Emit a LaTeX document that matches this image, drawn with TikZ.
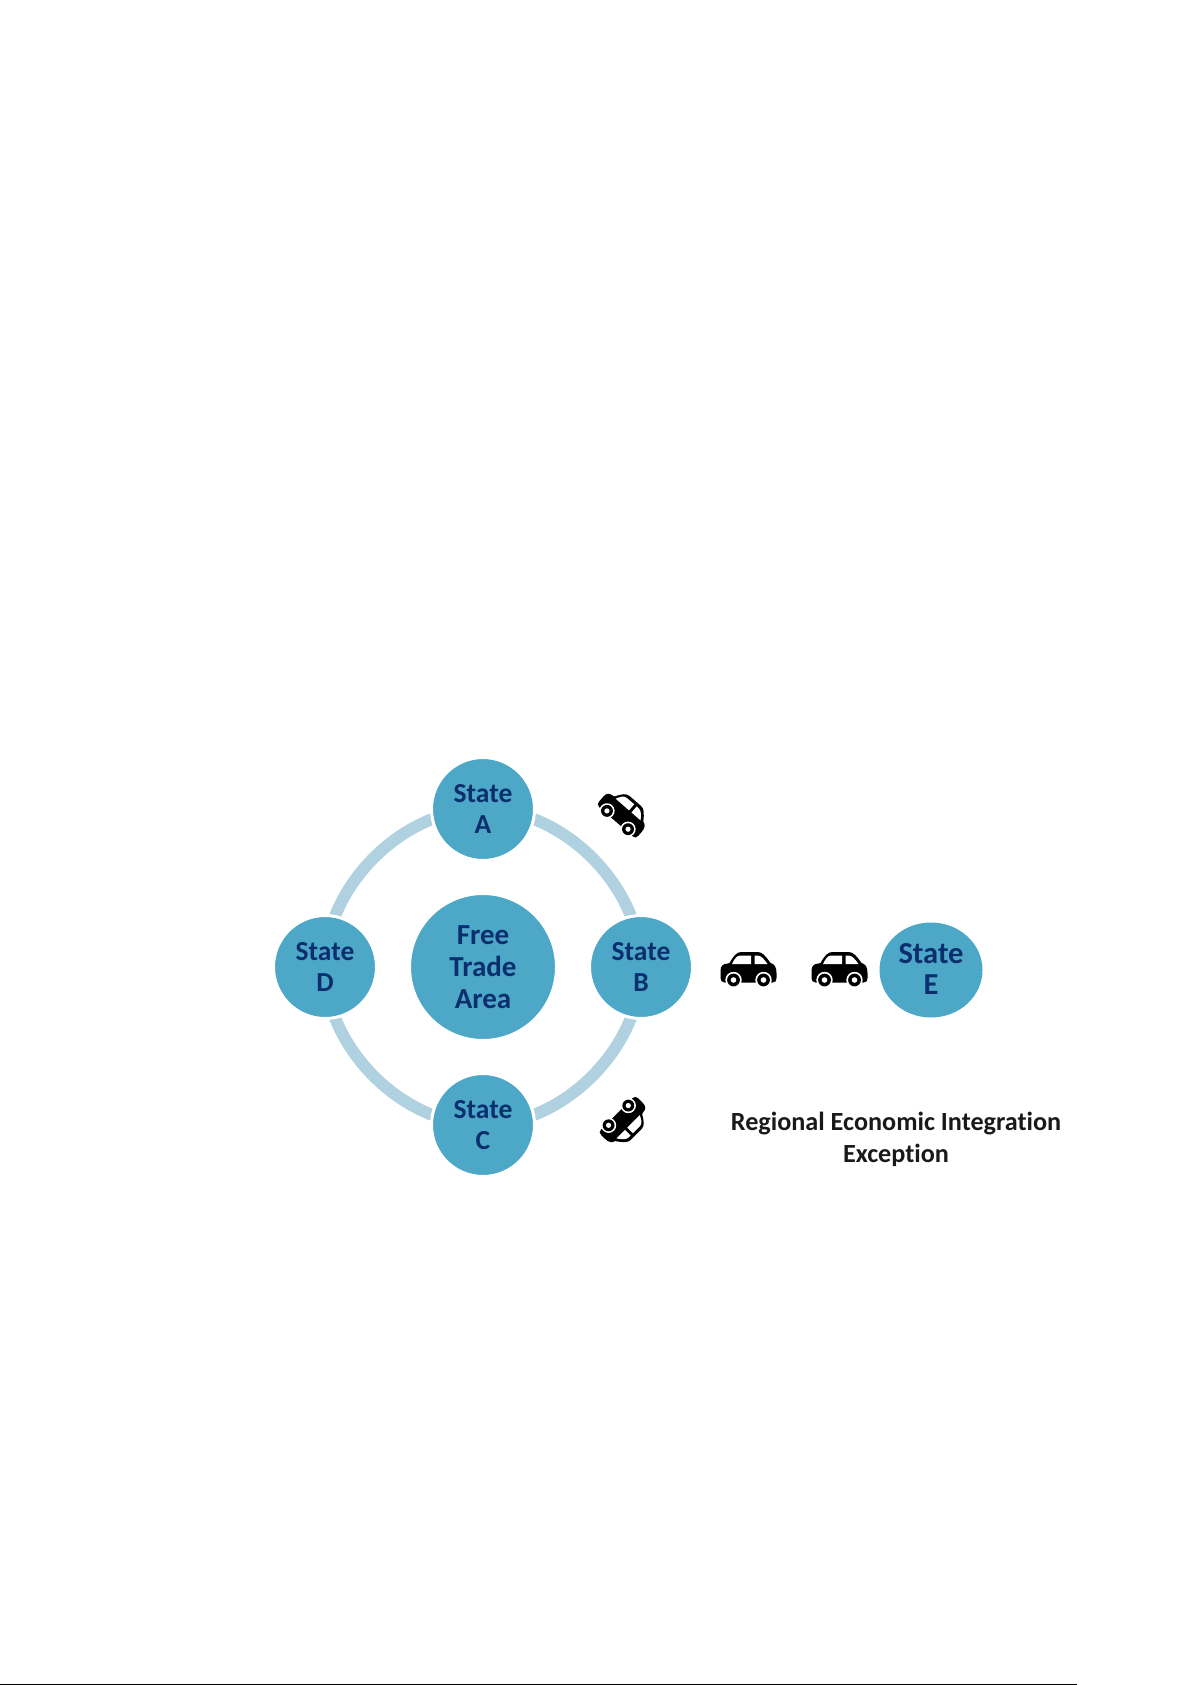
\documentclass[tikz,border=0pt]{standalone}
\usepackage{fontspec}
\setmainfont{Carlito}[RawFeature=-liga]
\usetikzlibrary{positioning,backgrounds,shapes.geometric}
\definecolor{statefill}{HTML}{4CA8C6}
\definecolor{statetext}{HTML}{0B2F6E}
\definecolor{ringblue}{HTML}{B0D2E0}
\tikzset{
    %Define style for circles
    member/.style={
           circle,
           draw=white,
           line width=3pt,
           fill=statefill,
           text=statetext,
           inner sep=0pt,
           outer sep=0pt,
           minimum size=103pt,
           align=center,
           font=\fontsize{27.5}{30.5}\selectfont\bfseries},
    hub/.style={
           member,
           minimum size=147pt,
           font=\fontsize{29}{32}\selectfont\bfseries},
    outsider/.style={
           member,
           ellipse,
           draw=none,
           minimum width=103pt,
           minimum height=95pt,
           text depth=1.5pt,
           font=\fontsize{30.5}{31}\selectfont\bfseries},
    caption/.style={
           align=center,
           text=black!90,
           font=\fontsize{26.2}{31.5}\selectfont\bfseries},
    % Define arc style
    ring/.style={
           draw=ringblue,
           line width=12pt,
           looseness=.92},
    % Define a car
    car/.pic={
        \fill[black] (-24,12.5) .. controls (-27,12.5) and (-28,10) .. (-28,8)
           -- (-28,1) .. controls (-28,-4) and (-26,-6) .. (-21,-6.5)
           -- (-19,-7) .. controls (-15,-14) and (-12,-18) .. (-7,-18)
           -- (9,-18) .. controls (14,-18) and (17,-14) .. (22,-7)
           .. controls (26,-6) and (28,-3) .. (28,3)
           -- (28,8) .. controls (28,11) and (27,12.5) .. (24,12.5) -- cycle;
        \fill[white] (-16.5,-6) .. controls (-14,-11) and (-12,-14.5) .. (-8,-14.5)
           -- (2.5,-14.5) -- (2.5,-6) -- cycle;
        \fill[white] (6,-14.5) -- (9,-14.5) .. controls (13,-14.5) and (16,-10) .. (19,-6)
           -- (6,-6) -- cycle;
        \foreach \wx in {-15,15}{
            \fill[white] (\wx,10) circle (8.2);
            \fill[black] (\wx,10) circle (6.4);
            \fill[white] (\wx,10) circle (2.8);
        }
    }
}
\begin{document}
\begin{tikzpicture}[x=1pt,y=-1pt,node distance=33pt]
\useasboundingbox (0,0) rectangle (1192,1685);
 %nodes
\node[hub](area) at (483,967){Free\\Trade\\Area};
\node[member, above=of area](A){State\\A};
\node[member, right=of area](B){State\\B};
\node[member, below=of area](C){State\\C};
\node[member, left=of area](D){State\\D};
\node[outsider, right=187pt of B, yshift=-3pt](E){State\\E};
\node[caption](label) at (896,1139.5){Regional Economic Integration\\Exception};
 %ring
\begin{scope}[on background layer]
\path[ring]
    (A.center) edge[bend left=45] (B.center)
    (B.center) edge[bend left=45] (C.center)
    (C.center) edge[bend left=45] (D.center)
    (D.center) edge[bend left=45] (A.center);
\end{scope}
 %cars
\pic[rotate=-41,scale=.93] (carA) at (623.6,813) {car};
\pic (carB) at (748.5,970) {car};
\pic (carE) at (839.5,970) {car};
\pic[rotate=-135,scale=.93] (carC) at (625,1122) {car};
 %page rule
\coordinate (ruleL) at (0,1684.2);
\coordinate (ruleR) at (1077,1684.2);
\draw[line width=1.2pt] (ruleL) -- (ruleR);
\end{tikzpicture}
\end{document}
